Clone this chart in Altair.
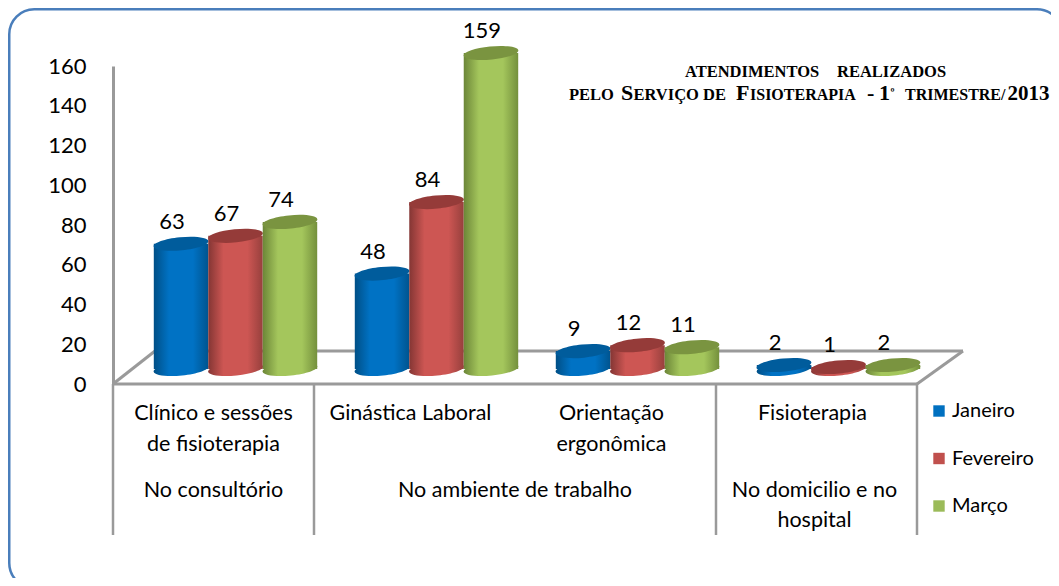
import altair as alt
import pandas as pd

categories = ["Clínico e sessões\nde fisioterapia", "Ginástica Laboral", "Orientação\nergonômica", "Fisioterapia"]
series = ["Janeiro", "Fevereiro", "Março"]
janeiro = [63, 48, 9, 2]
fevereiro = [67, 84, 12, 1]
marco = [74, 159, 11, 2]
y_ticks = [0, 20, 40, 60, 80, 100, 120, 140, 160]
groups = ["No consultório", "No ambiente de trabalho", "No domicilio e no\nhospital"]
group_slots = [0.5, 2, 3.49]
category_slots = [0.5, 1.48, 2.48, 3.48]
separator_slots = [0, 1, 3, 4]

legend_colors = ["#0070C0", "#C0504D", "#9BBB59"]
palette = {
    "Janeiro": ("#004F86", "#0072C4", "#00548F", "#005C9C"),
    "Fevereiro": ("#843634", "#CD5653", "#97403D", "#953B39"),
    "Março": ("#6C8638", "#A4C65C", "#74903C", "#7A9440"),
}

rows = []
for s, vals in zip(series, [janeiro, fevereiro, marco]):
    for c, v in zip(categories, vals):
        rows.append({"cat": c, "series": s, "value": v})
df = pd.DataFrame(rows)

W, H = 804, 318
OX, OY = 113, 66      # page position of the plot origin
LIFT = -15            # depth shift of the columns above the floor front edge
SHIFT = 22            # depth shift of the columns to the right
ELLIPSE = "M-0.995,0.1 A1,0.24 -5.5 1,1 0.995,-0.1 A1,0.24 -5.5 1,1 -0.995,0.1 Z"
ELL_SIZE = 55 ** 2
FONT = "Lato"
GRAY = "#9A9A9A"

y_scale = alt.Scale(domain=[0, 160], clamp=False, nice=False, zero=True)
x_band = alt.X("cat:N", sort=categories, axis=None,
               scale=alt.Scale(domain=categories, range=[SHIFT, W + SHIFT], paddingInner=0.187, paddingOuter=0.0935))
x_off = alt.XOffset("series:N", sort=series,
                    scale=alt.Scale(domain=series, paddingInner=0, paddingOuter=0))
y_val = alt.Y("value:Q", scale=y_scale, axis=None)
slot_scale = alt.Scale(domain=[0, 4], nice=False, zero=False)
one = pd.DataFrame({"a": [0]})


def grad(c1, c2, c3):
    return alt.LinearGradient(
        gradient="linear", x1=0, x2=1, y1=0, y2=0,
        stops=[alt.GradientStop(color=c1, offset=0),
               alt.GradientStop(color=c2, offset=0.28),
               alt.GradientStop(color=c2, offset=0.72),
               alt.GradientStop(color=c3, offset=1)])


def seg(x1, y1, x2, y2, color=GRAY, width=3):
    return alt.Chart(one).mark_rule(color=color, strokeWidth=width).encode(
        x=alt.value(x1 - OX), y=alt.value(y1 - OY), x2=alt.value(x2 - OX), y2=alt.value(y2 - OY))


frame = alt.Chart(one).mark_rect(
    fill="white", fillOpacity=0, stroke="#4A7EBB", strokeWidth=2.5, cornerRadius=25
).encode(x=alt.value(9.25 - OX), x2=alt.value(1062 - OX), y=alt.value(9.25 - OY), y2=alt.value(588 - OY))

axis_layer = alt.Chart(df).mark_point(opacity=0).encode(
    y=alt.Y("value:Q", scale=y_scale, axis=alt.Axis(
        values=y_ticks, title=None, grid=False, ticks=False, orient="left", format="d",
        domainColor=GRAY, domainWidth=3, labelFont=FONT, labelFontSize=22, labelColor="#000000",
        labelPadding=27, labelOffset=0, labelFlush=False)),
    x=alt.value(0))

floor = [
    seg(113, 384, 917, 384),
    seg(113, 384, 155, 351),
    seg(155, 351, 963, 351),
    seg(917, 384, 963, 351),
]

separators = alt.Chart(pd.DataFrame({"slot": separator_slots})).mark_rule(color=GRAY, strokeWidth=2.5).encode(
    x=alt.X("slot:Q", scale=slot_scale, axis=None), y=alt.value(H), y2=alt.value(535 - OY))

cat_text = alt.Chart(pd.DataFrame({"slot": category_slots, "t": categories})).mark_text(
    font=FONT, fontSize=21.5, color="#000000", lineBreak="\n", lineHeight=31, baseline="top", align="center"
).encode(x=alt.X("slot:Q", scale=slot_scale, axis=None), y=alt.value(403 - OY), text="t:N")

group_text = alt.Chart(pd.DataFrame({"slot": group_slots, "t": groups})).mark_text(
    font=FONT, fontSize=21.5, color="#000000", lineBreak="\n", lineHeight=30, baseline="top", align="center"
).encode(x=alt.X("slot:Q", scale=slot_scale, axis=None), y=alt.value(480 - OY), text="t:N")

cols = []
for s in series:
    d = df[df.series == s]
    c1, c2, c3, ctop = palette[s]
    g = grad(c1, c2, c3)
    base = alt.Chart(d)
    cols.append(base.mark_point(shape=ELLIPSE, size=ELL_SIZE, filled=True, opacity=1, fill=g, stroke="transparent", yOffset=LIFT).encode(
        x=x_band, xOffset=x_off, y=alt.Y("zero:Q", scale=y_scale, axis=None)
    ).transform_calculate(zero="0"))
    cols.append(base.mark_bar(fill=g, yOffset=LIFT, y2Offset=LIFT, stroke="transparent").encode(
        x=x_band, xOffset=x_off, y=alt.Y("value:Q", scale=y_scale, axis=None, stack=None),
        y2=alt.Y2("zero:Q")
    ).transform_calculate(zero="0"))
    cols.append(base.mark_point(shape=ELLIPSE, size=ELL_SIZE, filled=True, opacity=1, fill=ctop, stroke="transparent", yOffset=LIFT).encode(
        x=x_band, xOffset=x_off, y=y_val))

labels = alt.Chart(df).mark_text(
    font=FONT, fontSize=22, color="#000000", baseline="middle", align="center", dy=LIFT - 22, dx=-9
).encode(x=x_band, xOffset=x_off, y=y_val, text="value:Q")

legend_layer = alt.Chart(df).mark_point(filled=True, size=0, opacity=0).encode(
    color=alt.Color("series:N", sort=series,
                    scale=alt.Scale(domain=series, range=legend_colors),
                    legend=alt.Legend(orient="none", legendX=929 - OX, legendY=401 - OY, title=None,
                                      symbolType="square", symbolSize=130, symbolOpacity=1, symbolStrokeWidth=0,
                                      labelFont=FONT, labelFontSize=20, labelColor="#000000",
                                      rowPadding=27.5, labelOffset=3, padding=0)),
    x=alt.value(0), y=alt.value(0))


def piece(text, x, y, size):
    return alt.Chart(one).mark_text(
        text=text, font="Liberation Serif", fontWeight="bold", fontSize=size, color="#000000",
        align="left", baseline="alphabetic"
    ).encode(x=alt.value(x - OX), y=alt.value(y - OY))


BIG, SMALL = 22, 16.5
title = [
    piece("ATENDIMENTOS", 685, 77, SMALL),
    piece("REALIZADOS", 837, 77, SMALL),
    piece("PELO", 569, 99.5, SMALL),
    piece("S", 621, 99.5, BIG),
    piece("ERVIÇO DE", 633.5, 99.5, SMALL),
    piece("F", 736, 99.5, BIG),
    piece("ISIOTERAPIA", 750, 99.5, 16),
    piece("-", 867, 99.5, BIG),
    piece("1", 879, 99.5, BIG),
    piece("º", 890.5, 96, 12),
    piece("TRIMESTRE/", 905, 99.5, 16),
    piece("2013", 1007.5, 99.5, 21),
]

TOTAL_W, TOTAL_H = 1043, 570
chart = alt.layer(
    frame, axis_layer, *floor, separators, cat_text, group_text, *cols, labels, legend_layer, *title
).resolve_scale(x="independent").resolve_axis(y="independent").properties(
    width=W, height=H,
    autosize=alt.AutoSizeParams(type="none"),
    padding={"left": OX - 8, "top": OY - 8, "right": TOTAL_W - (OX - 8) - W, "bottom": TOTAL_H - (OY - 8) - H},
).configure_view(stroke=None)

chart.save("out.html", embed_options={"renderer": "svg", "actions": False})
